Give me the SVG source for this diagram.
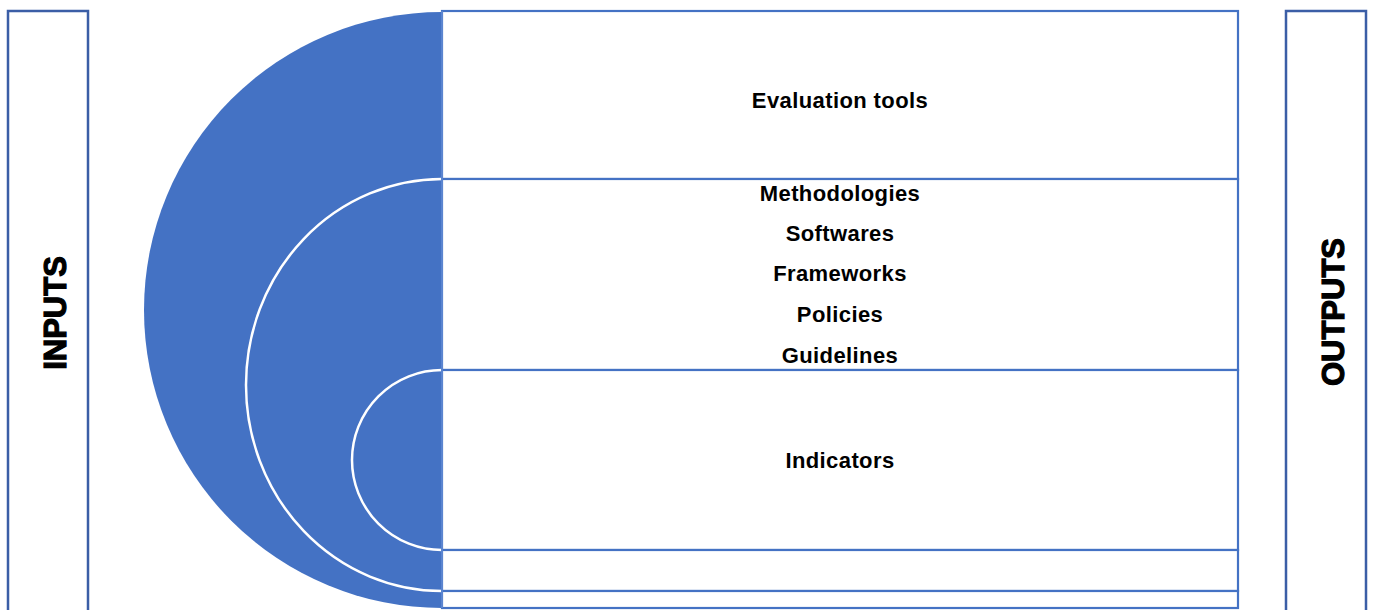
<svg xmlns="http://www.w3.org/2000/svg" width="1373" height="610" viewBox="0 0 1373 610">
  <style>
    .side { fill: #ffffff; stroke: #3B5EA6; stroke-width: 2.5; }
    .row { fill: #ffffff; stroke: #4472C4; stroke-width: 2.2; }
    .ring { fill: #4472C4; stroke: #ffffff; stroke-width: 2.5; }
    .label { font-family: "Liberation Sans", Arial, sans-serif; font-weight: bold; font-size: 22px; letter-spacing: 0.4px; fill: #000000; text-anchor: middle; }
    .side-label { font-family: "Liberation Sans", Arial, sans-serif; font-weight: bold; font-size: 31px; fill: #000000; stroke: #000000; stroke-width: 1.2; text-anchor: middle; }
  </style>
  <defs>
    <clipPath id="leftHalf">
      <rect x="0" y="0" width="442" height="610"/>
    </clipPath>
  </defs>

  <rect width="1373" height="610" fill="#ffffff"/>

  <!-- side panels -->
  <g id="inputs">
    <rect class="side" x="8" y="11" width="80" height="620"/>
    <text class="side-label" transform="translate(66 313) rotate(-90)">INPUTS</text>
  </g>
  <g id="outputs">
    <rect class="side" x="1286" y="11" width="80" height="620"/>
    <text class="side-label" transform="translate(1344 312) rotate(-90)">OUTPUTS</text>
  </g>

  <!-- stacked rows on the right -->
  <g id="row-evaluation-tools">
    <rect class="row" x="442" y="11" width="796" height="168"/>
    <text class="label" x="840" y="108">Evaluation tools</text>
  </g>
  <g id="row-methods">
    <rect class="row" x="442" y="179" width="796" height="191"/>
    <text class="label" x="840" y="201">Methodologies</text>
    <text class="label" x="840" y="241">Softwares</text>
    <text class="label" x="840" y="281">Frameworks</text>
    <text class="label" x="840" y="322">Policies</text>
    <text class="label" x="840" y="363">Guidelines</text>
  </g>
  <g id="row-indicators">
    <rect class="row" x="442" y="370" width="796" height="180"/>
    <text class="label" x="840" y="468">Indicators</text>
  </g>
  <g id="row-gap-1">
    <rect class="row" x="442" y="550" width="796" height="41"/>
  </g>
  <g id="row-gap-2">
    <rect class="row" x="442" y="591" width="796" height="17"/>
  </g>

  <!-- nested half rings -->
  <g id="rings" clip-path="url(#leftHalf)">
    <g id="ring-outer">
      <ellipse cx="442" cy="310" rx="298" ry="298" fill="#4472C4"/>
    </g>
    <g id="ring-middle">
      <ellipse class="ring" cx="442" cy="385" rx="196" ry="206"/>
    </g>
    <g id="ring-inner">
      <ellipse class="ring" cx="442" cy="460" rx="90" ry="90"/>
    </g>
  </g>

  <!-- connectors: the shared edge between rings and rows -->
  <g id="connectors">
    <line x1="442" y1="11" x2="442" y2="608" stroke="#5B85D0" stroke-width="2"/>
  </g>
</svg>
